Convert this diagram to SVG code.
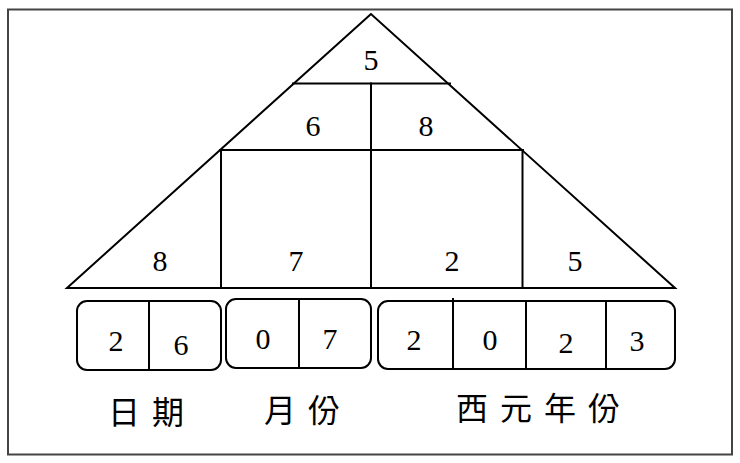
<svg xmlns="http://www.w3.org/2000/svg" width="740" height="463" viewBox="0 0 740 463">
<style>
.ln{stroke:#000;stroke-width:2;fill:none;stroke-linecap:square}
.bx{stroke:#000;stroke-width:2;fill:none}
.num{font-family:"Liberation Serif","Times New Roman",serif;font-size:30px;fill:#000;text-anchor:middle}
.lab{font-family:"Noto Sans CJK TC","Noto Sans CJK SC",sans-serif;font-size:32px;fill:#000;letter-spacing:12px}
</style>
<rect x="0" y="0" width="740" height="463" fill="#fff"/>
<rect id="frame" x="8" y="9.5" width="724" height="445" fill="none" stroke="#444" stroke-width="2"/>
<g id="pyramid">
<polygon class="ln" points="371,14 67,288 675,288"/>
<line class="ln" x1="293" y1="83.5" x2="450" y2="83.5"/>
<line class="ln" x1="220" y1="150" x2="523" y2="150"/>
<line class="ln" x1="371" y1="83.5" x2="371" y2="288"/>
<line class="ln" x1="221" y1="150" x2="221" y2="288"/>
<line class="ln" x1="522.5" y1="150" x2="522.5" y2="288"/>
<text class="num" x="371" y="70">5</text>
<text class="num" x="313" y="136">6</text>
<text class="num" x="426" y="136">8</text>
<text class="num" x="160" y="271">8</text>
<text class="num" x="296" y="271">7</text>
<text class="num" x="452" y="271">2</text>
<text class="num" x="575" y="271">5</text>
</g>
<g id="day">
<rect class="bx" x="77" y="301" width="144" height="69" rx="10"/>
<line class="ln" x1="149" y1="301" x2="149" y2="370"/>
<text class="num" x="116" y="351">2</text>
<text class="num" x="181" y="355">6</text>
</g>
<g id="month">
<rect class="bx" x="226" y="299" width="145" height="69" rx="10"/>
<line class="ln" x1="299" y1="299" x2="299" y2="368"/>
<text class="num" x="263" y="349">0</text>
<text class="num" x="330" y="349">7</text>
</g>
<g id="year">
<rect class="bx" x="378" y="301" width="297" height="68" rx="10"/>
<line class="ln" x1="453" y1="299" x2="453" y2="369"/>
<line class="ln" x1="526" y1="301" x2="526" y2="369"/>
<line class="ln" x1="606" y1="301" x2="606" y2="369"/>
<text class="num" x="414" y="350">2</text>
<text class="num" x="490" y="350">0</text>
<text class="num" x="566" y="353">2</text>
<text class="num" x="637" y="351">3</text>
</g>
<g id="labels">
<text class="lab" x="108" y="424">日期</text>
<text class="lab" x="264" y="422">月份</text>
<text class="lab" x="456" y="420">西元年份</text>
</g>
</svg>
